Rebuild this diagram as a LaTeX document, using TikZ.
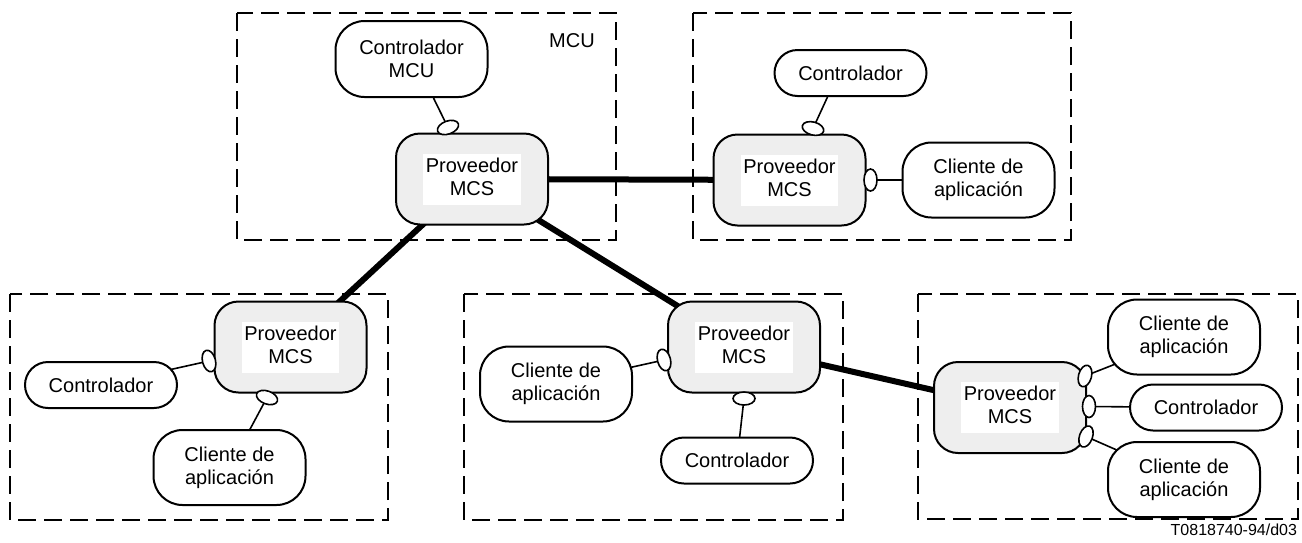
\documentclass[tikz,border=0pt]{standalone}
\usepackage{fontspec}
\setmainfont{Liberation Sans}
\usetikzlibrary{positioning,shapes.geometric,backgrounds}
\definecolor{provgray}{HTML}{EEEEEE}
\newcommand{\provmcs}{{\setlength{\fboxsep}{2.5pt}\colorbox{white}{\begin{tabular}{@{}c@{}}Proveedor\\MCS\end{tabular}}}}

\begin{document}
\begin{tikzpicture}[x=1pt, y=-1pt, on grid, line width=2pt, font=\fontsize{20}{23}\selectfont,
  prov/.style = {draw, fill=provgray, rounded corners=24pt, minimum width=152pt, minimum height=91pt, inner sep=0pt},
  box/.style = {draw, fill=white, rounded corners=23pt, minimum width=152pt, minimum height=46pt, inner sep=0pt, align=center},
  client/.style = {box, rounded corners=29pt, minimum height=75pt},
  port/.style = {draw, fill=white, ellipse, minimum width=22pt, minimum height=13pt, inner sep=0pt, line width=1.6pt},
  grp/.style = {line width=2.6pt, dash pattern=on 18pt off 8pt},
  link/.style = {line width=6pt},
  wire/.style = {line width=1.6pt}]
\useasboundingbox (0,0) rectangle (1302,542);
\draw[grp] (237,13) rectangle (616,240);
\draw[grp] (693,13) rectangle (1071,240);
\draw[grp] (10,294) rectangle (388,520);
\draw[grp] (464,294) rectangle (843,520);
\draw[grp] (918,294) rectangle (1298,519);
\node[prov] (1) at (472,179) {\provmcs};
\node[client, minimum height=76pt] (2) [above left=120pt and 60.5pt of 1] {Controlador\\MCU};
\node (mcu) at (572,40.5) {MCU};
\node[prov] (3) at (789.5,180) {\provmcs};
\node[box] (4) [above right=107pt and 61pt of 3] {Controlador};
\node[client] (5) [right=189pt of 3] {Cliente de\\aplicación};
\node[prov] (6) at (290.5,347) {\provmcs};
\node[box] (7) [below left=38pt and 189.5pt of 6] {Controlador};
\node[client] (8) [below left=120.5pt and 61pt of 6] {Cliente de\\aplicación};
\node[prov] (9) at (744,347) {\provmcs};
\node[client] (10) [below left=37pt and 188pt of 9] {Cliente de\\aplicación};
\node[box] (11) [below left=113.5pt and 7pt of 9] {Controlador};
\node[prov] (12) at (1010,407.5) {\provmcs};
\node[client] (13) [above right=70.5pt and 174pt of 12] {Cliente de\\aplicación};
\node[box] (14) [right=196pt of 12] {Controlador};
\node[client] (15) [below right=72pt and 174pt of 12] {Cliente de\\aplicación};
\node[port, rotate=20] (p1) at ([xshift=-24pt, yshift=5pt]1.north) {};
\node[port, rotate=-15] (p2) at ([xshift=23.5pt, yshift=5pt]3.north) {};
\node[port, rotate=90] (p3) at ([xshift=4pt]3.east) {};
\node[port, rotate=105] (p4) at ([xshift=-4.5pt, yshift=-14pt]6.west) {};
\node[port, rotate=-20] (p5) at ([xshift=-23.5pt, yshift=-4pt]6.south) {};
\node[port, rotate=105] (p6) at ([xshift=-3pt, yshift=-13pt]9.west) {};
\node[port] (p7) at ([yshift=-5pt]9.south) {};
\node[port, rotate=75] (p8) at ([xshift=-2pt, yshift=31.5pt]12.east) {};
\node[port, rotate=90] (p9) at ([xshift=2pt, yshift=1pt]12.east) {};
\node[port, rotate=70] (p10) at ([xshift=-1pt, yshift=-29pt]12.east) {};
\node[anchor=base east, inner sep=0pt, font=\fontsize{16}{19}\selectfont] (ref) at (1298,535) {T0818740-94/d03};
\begin{scope}[on background layer]
\draw[link] (1.center) -- (3.center);
\draw[link] (1.center) -- (6.center);
\draw[link] (1.center) -- (9.center);
\draw[link] (9.center) -- (12.center);
\draw[wire] (p1.center) -- ([xshift=22pt]2.south);
\draw[wire] (p2.center) -- ([xshift=-23pt]4.south);
\draw[wire] (p3.center) -- (5.center);
\draw[wire] (p4.center) -- (7.center);
\draw[wire] (p5.center) -- (8.center);
\draw[wire] (p6.center) -- (10.center);
\draw[wire] (p7.center) -- (11.center);
\draw[wire] (p8.center) -- (13.center);
\draw[wire] (p9.center) -- (14.center);
\draw[wire] (p10.center) -- (15.center);
\end{scope}
\end{tikzpicture}
\end{document}
